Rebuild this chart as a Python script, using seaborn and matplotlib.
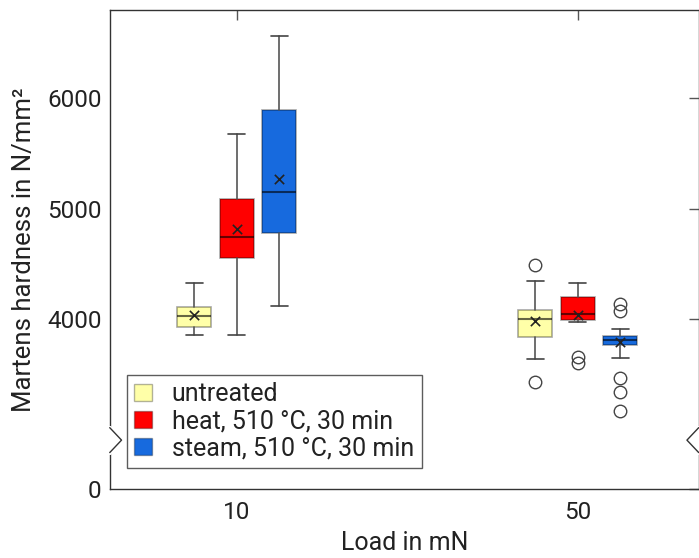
import numpy as np
import seaborn as sns
import matplotlib.pyplot as plt
from matplotlib.patches import Patch

# data (Martens hardness in N/mm^2)
loads = ['10', '50']
treatments = ['untreated', 'heat, 510 °C, 30 min', 'steam, 510 °C, 30 min']
colors = ['#ffffa8', '#ff0000', '#176ade']

# per treatment, per load
q1 = [[3930, 3837], [4555, 3988], [4775, 3767]]
med = [[4027, 3997], [4742, 4048], [5149, 3807]]
q3 = [[4106, 4079], [5089, 4199], [5898, 3849]]
whislo = [[3858, 3638], [3858, 3973], [4121, 3650]]
whishi = [[4323, 4344], [5677, 4323], [6561, 3907]]
means = [[4039, 3982], [4814, 4033], [5270, 3789]]
fliers = [[[], [3430, 4486]],
          [[], [3599, 3653]],
          [[], [3165, 3342, 3469, 4072, 4133]]]

# broken axis: bottom of plotted range is labelled 0
y_bottom = 2460
y_top = 6800
ytick_values = [y_bottom, 4000, 5000, 6000]
ytick_labels = ['0', '4000', '5000', '6000']

sns.set_theme(style='white')
plt.rcParams['font.family'] = ['Roboto', 'DejaVu Sans']

fig = plt.figure(figsize=(6.99, 5.58), dpi=100)
ax = fig.add_axes([0.157, 0.1237, 0.8426, 0.8584])

dodge = 0.375
offsets = [-dodge / 3, 0, dodge / 3]
box_w = dodge / 3 * 0.8

for t in range(len(treatments)):
    stats = []
    for i in range(len(loads)):
        stats.append(dict(q1=q1[t][i], med=med[t][i], q3=q3[t][i],
                          whislo=whislo[t][i], whishi=whishi[t][i],
                          mean=means[t][i], fliers=fliers[t][i]))
    pos = [i + offsets[t] for i in range(len(loads))]
    ax.bxp(stats, positions=pos, widths=box_w, patch_artist=True,
           showmeans=False, manage_ticks=False,
           boxprops=dict(facecolor=colors[t], edgecolor=(0, 0, 0, 0.35), linewidth=1.2),
           medianprops=dict(color=(0, 0, 0, 0.6), linewidth=1.5),
           whiskerprops=dict(color='#555555', linewidth=1.2),
           capprops=dict(color='#444444', linewidth=1.2),
           flierprops=dict(marker='o', markerfacecolor='none', markeredgecolor='#444444',
                           markersize=9, markeredgewidth=1.0))
    sns.scatterplot(x=pos, y=means[t], marker='x', color='#222222', s=45,
                    linewidth=1.2, ax=ax, legend=False, zorder=5)

ax.set_xlim(-0.3724, 1.355)
ax.set_ylim(y_bottom, y_top)
ax.set_xticks(range(len(loads)))
ax.set_xticklabels(loads)
ax.set_yticks(ytick_values)
ax.set_yticklabels(ytick_labels)

for s in ax.spines.values():
    s.set_color('#333333')
    s.set_linewidth(1.0)

ax.tick_params(axis='both', direction='in', length=7, width=1.0, color='#555555',
               labelsize=17.5, labelcolor='#222222', top=True, right=True)
ax.tick_params(axis='y', pad=6)
ax.tick_params(axis='x', pad=9)

ax.set_ylabel('Martens hardness in N/mm²', fontsize=18.5, color='#222222', labelpad=8)
ax.set_xlabel('Load in mN', fontsize=18, color='#222222', labelpad=5)

# axis break marks on both sides
yb = 0.102
dy = 0.026
dx = 0.02
for x0, sgn in [(0, 1), (1, -1)]:
    ax.plot([x0, x0], [yb - dy, yb + dy], transform=ax.transAxes, color='white',
            lw=3, clip_on=False, zorder=10)
    ax.plot([x0, x0 + sgn * dx, x0], [yb + dy, yb, yb - dy], transform=ax.transAxes,
            color='#333333', lw=1.0, clip_on=False, zorder=11)

handles = [Patch(facecolor=c, edgecolor=(0, 0, 0, 0.3), linewidth=1.0) for c in colors]
leg = ax.legend(handles, treatments, loc='lower left', bbox_to_anchor=(0.029, 0.044),
                borderaxespad=0, fontsize=18, frameon=True, fancybox=False,
                handlelength=0.7, handleheight=0.7, handletextpad=0.8,
                labelspacing=0.12, borderpad=0.3)
leg.get_frame().set_edgecolor('#333333')
leg.get_frame().set_linewidth(1.0)
for txt in leg.get_texts():
    txt.set_color('#222222')

fig.savefig('out.png', dpi=100)
